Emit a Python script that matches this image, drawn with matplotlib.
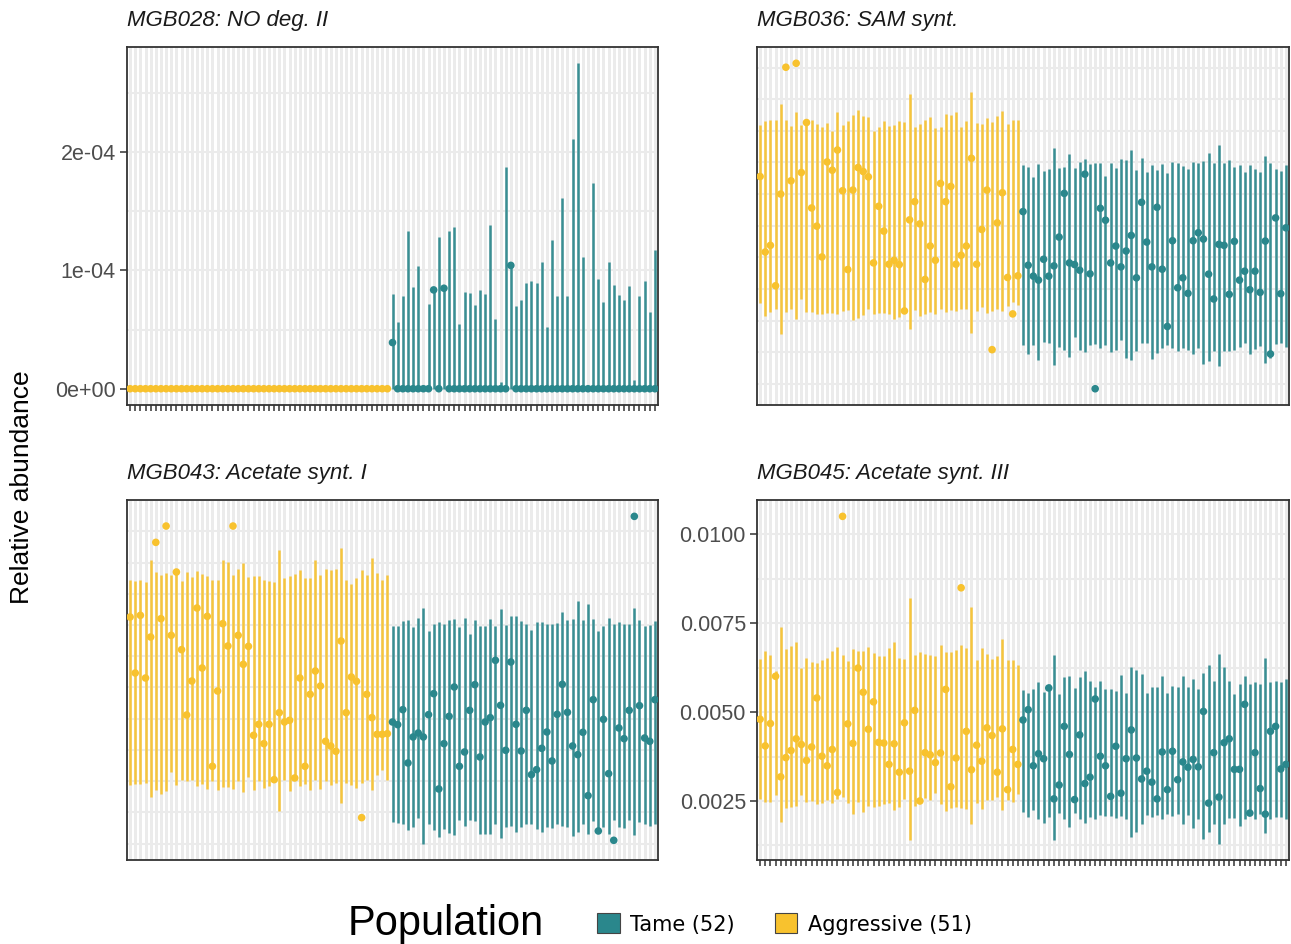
import numpy as np
import matplotlib.pyplot as plt
from matplotlib.ticker import MultipleLocator, FuncFormatter, FormatStrFormatter, NullLocator
from matplotlib.patches import Patch

plt.rcParams['font.family'] = ['Liberation Sans', 'DejaVu Sans']

# ------------------------------------------------------------
# Data : 51 aggressive samples followed by 52 tame samples
# ------------------------------------------------------------
n_aggr, n_tame = 51, 52
group = ['Aggressive'] * n_aggr + ['Tame'] * n_tame

# MGB028: NO deg. II  (units of 1e-4)
no_mid = [0.0] * 51 + [
    0.39, 0, 0, 0, 0, 0, 0, 0, 0.835, 0,
    0.849, 0, 0, 0, 0, 0, 0, 0, 0, 0,
    0, 0, 0, 1.042, 0, 0, 0, 0, 0, 0,
    0, 0, 0, 0, 0, 0, 0, 0, 0, 0,
    0, 0, 0, 0, 0, 0, 0, 0, 0, 0,
    0, 0]
no_lo = [0.0] * 103
no_hi = [0.0] * 51 + [
    0.80, 0.56, 0.78, 1.33, 0.86, 1.04, 0, 0.72, 0.84, 1.28,
    0.85, 1.33, 1.37, 0.55, 0.82, 0.81, 0.71, 0.83, 0.80, 1.38,
    0.59, 0.06, 1.87, 1.05, 0.70, 0.75, 0.89, 0.91, 0.89, 1.07,
    0.52, 1.26, 0.78, 1.61, 0.78, 2.11, 2.75, 1.11, 0, 1.74,
    0.93, 0.73, 1.07, 0.88, 0.79, 0.75, 0.87, 0.07, 0.78, 0.91,
    0.65, 1.17]

# MGB036: SAM synt.  (units of 1e-6)
sam_mid = [
    688, 460, 480, 358, 635, 1018, 675, 1030, 700, 851,
    593, 538, 445, 732, 707, 768, 645, 407, 647, 715,
    703, 687, 427, 598, 523, 423, 435, 422, 282, 557,
    612, 545, 377, 478, 435, 667, 612, 658, 423, 450,
    478, 743, 423, 528, 647, 165, 548, 639, 383, 273,
    388,
    582, 420, 387, 375, 438, 387, 418, 505, 637, 427,
    422, 405, 695, 394, 47, 592, 556, 427, 478, 415,
    463, 510, 382, 610, 490, 415, 595, 408, 235, 494,
    352, 382, 335, 494, 518, 499, 393, 318, 483, 480,
    332, 492, 375, 402, 346, 402, 338, 493, 152, 563,
    334, 533]
sam_lo = [
    305, 267, 280, 288, 212, 280, 288, 257, 317, 280,
    278, 272, 272, 275, 275, 272, 282, 285, 255, 260,
    270, 288, 272, 277, 275, 272, 258, 265, 275, 227,
    285, 267, 272, 280, 272, 287, 278, 285, 282, 288,
    288, 215, 283, 295, 275, 283, 288, 282, 297, 310,
    300,
    180, 152, 178, 135, 188, 185, 118, 172, 165, 142,
    202, 165, 158, 180, 182, 170, 180, 158, 165, 195,
    140, 135, 160, 185, 185, 138, 155, 170, 180, 170,
    160, 170, 165, 152, 170, 122, 132, 162, 115, 160,
    162, 165, 172, 185, 152, 168, 175, 125, 140, 182,
    185, 172]
sam_hi = [
    845, 855, 858, 858, 908, 860, 840, 882, 845, 855,
    858, 848, 838, 850, 825, 882, 845, 855, 875, 890,
    870, 868, 825, 838, 855, 842, 845, 855, 852, 938,
    838, 848, 860, 868, 835, 838, 878, 875, 882, 838,
    855, 942, 850, 848, 865, 852, 870, 885, 848, 860,
    858,
    722, 718, 688, 725, 705, 710, 775, 715, 718, 755,
    715, 732, 742, 725, 730, 730, 690, 728, 715, 742,
    738, 768, 708, 745, 702, 722, 708, 725, 698, 732,
    728, 720, 710, 732, 728, 735, 758, 730, 784, 730,
    738, 718, 722, 702, 722, 710, 702, 750, 728, 712,
    705, 722]

# MGB043: Acetate synt. I  (units of 1e-6)
ace1_mid = [
    730, 562, 735, 547, 670, 954, 725, 1003, 675, 865,
    632, 436, 538, 757, 577, 732, 282, 508, 710, 643,
    1003, 675, 588, 642, 375, 408, 350, 408, 242, 443,
    415, 420, 247, 547, 282, 498, 568, 523, 357, 343,
    327, 658, 443, 550, 537, 128, 498, 428, 378, 378,
    380,
    415, 407, 452, 292, 370, 382, 370, 437, 500, 214,
    350, 432, 520, 282, 325, 450, 527, 310, 415, 428,
    600, 465, 330, 595, 408, 328, 450, 257, 272, 336,
    385, 298, 438, 528, 444, 343, 317, 384, 194, 482,
    88, 423, 260, 60, 397, 365, 450, 1032, 464, 367,
    357, 482]
ace1_lo = [
    225, 230, 228, 232, 190, 212, 200, 208, 265, 225,
    242, 238, 242, 222, 230, 215, 238, 212, 220, 220,
    215, 238, 205, 250, 212, 238, 218, 222, 242, 148,
    242, 207, 242, 222, 228, 212, 240, 215, 238, 225,
    232, 172, 232, 225, 218, 232, 242, 210, 255, 272,
    242,
    115, 112, 108, 92, 100, 128, 50, 110, 92, 70,
    95, 82, 75, 120, 102, 120, 118, 80, 78, 80,
    110, 68, 100, 102, 85, 100, 108, 110, 95, 85,
    100, 98, 108, 102, 100, 72, 85, 108, 80, 118,
    90, 100, 78, 120, 100, 98, 120, 75, 115, 108,
    102, 108]
ace1_hi = [
    842, 838, 842, 835, 902, 865, 855, 862, 855, 860,
    838, 865, 850, 868, 860, 852, 842, 840, 902, 895,
    855, 875, 892, 850, 852, 852, 840, 838, 835, 932,
    848, 852, 860, 872, 848, 848, 902, 855, 875, 870,
    875, 938, 842, 830, 848, 872, 855, 908, 862, 842,
    855,
    702, 702, 718, 722, 700, 727, 758, 687, 710, 715,
    710, 720, 725, 700, 727, 678, 720, 702, 702, 725,
    702, 755, 705, 732, 732, 718, 708, 690, 715, 715,
    708, 708, 712, 745, 722, 725, 778, 720, 768, 725,
    687, 702, 728, 708, 715, 708, 708, 758, 722, 702,
    705, 717]

# MGB045: Acetate synt. III  (units of 1e-4)
ace3_mid = [
    48.0, 40.5, 46.8, 60.1, 31.8, 37.2, 39.2, 42.5, 40.9, 36.4,
    40.2, 54.0, 37.6, 34.9, 39.5, 27.4, 105.1, 46.7, 41.2, 62.4,
    55.6, 45.2, 52.9, 41.5, 41.3, 35.3, 41.1, 33.1, 47.0, 33.4,
    50.5, 25.0, 38.6, 38.0, 35.8, 38.5, 56.4, 29.0, 37.1, 85.0,
    44.6, 33.8, 40.7, 36.2, 45.6, 43.4, 33.1, 45.3, 28.2, 39.5,
    35.3,
    47.8, 50.7, 34.9, 38.3, 36.9, 56.8, 25.6, 29.5, 46.0, 38.1,
    25.4, 43.6, 29.9, 31.7, 53.7, 37.6, 34.9, 26.3, 40.4, 27.2,
    36.9, 45.0, 37.1, 31.2, 33.4, 30.3, 25.6, 38.8, 28.2, 39.0,
    31.0, 36.0, 34.5, 36.7, 34.6, 50.2, 24.4, 38.6, 26.1, 41.4,
    42.5, 33.9, 33.9, 52.2, 21.6, 38.6, 28.5, 21.3, 44.6, 46.0,
    34.0, 35.3]
ace3_lo = [
    25.7, 24.7, 24.7, 26.6, 19.1, 23.1, 23.3, 23.5, 26.6, 24.7,
    25.0, 24.1, 24.4, 25.2, 24.3, 25.7, 26.1, 24.4, 21.3, 24.7,
    21.9, 23.5, 23.3, 23.5, 24.1, 24.4, 22.4, 23.3, 25.7, 14.1,
    23.5, 24.3, 25.9, 25.4, 27.2, 24.1, 22.2, 23.0, 23.3, 23.1,
    22.8, 18.6, 24.3, 22.8, 25.2, 25.4, 26.1, 22.6, 25.2, 24.7,
    26.9,
    21.9, 20.5, 22.6, 19.8, 18.8, 20.5, 14.1, 21.6, 19.8, 17.7,
    21.6, 19.8, 18.8, 20.5, 20.0, 21.0, 20.7, 20.7, 20.3, 20.7,
    20.0, 14.9, 16.3, 18.6, 21.0, 20.5, 21.0, 20.0, 21.3, 20.7,
    21.4, 18.4, 21.0, 17.5, 20.0, 14.4, 16.3, 18.6, 13.0, 18.6,
    20.3, 20.3, 17.9, 19.8, 21.0, 20.0, 21.3, 16.0, 20.0, 20.5,
    20.5, 20.0]
ace3_hi = [
    65.0, 67.3, 66.2, 61.5, 74.1, 67.8, 68.7, 69.8, 62.4, 65.3,
    64.0, 63.8, 64.7, 65.3, 67.3, 68.3, 66.2, 64.3, 67.8, 67.1,
    67.1, 68.3, 66.6, 65.7, 65.7, 68.0, 69.7, 65.3, 65.0, 82.0,
    66.2, 67.0, 66.4, 66.2, 65.9, 69.0, 66.9, 66.9, 67.5, 68.9,
    68.0, 79.7, 64.7, 68.1, 66.4, 65.0, 65.9, 70.6, 64.7, 64.7,
    63.4,
    56.1, 55.4, 56.6, 58.4, 55.6, 58.0, 66.2, 55.1, 60.0, 60.3,
    56.8, 59.8, 61.7, 58.7, 57.2, 58.7, 56.6, 56.6, 55.9, 60.5,
    55.3, 62.8, 61.9, 60.8, 55.3, 57.0, 57.2, 60.3, 55.3, 57.5,
    57.2, 60.3, 57.2, 59.4, 56.6, 61.0, 63.4, 58.9, 66.4, 62.6,
    58.7, 55.1, 57.8, 60.3, 57.8, 58.4, 58.0, 65.3, 58.4, 58.9,
    58.4, 59.4]

# ------------------------------------------------------------
# Style
# ------------------------------------------------------------
TEAL = '#2a878c'
GOLD = '#f8c22e'
GRID = '#ebebeb'
FRAME = '#333333'
W, H = 1291, 944


def box(x0, y0, x1, y1):
    # pixel box (top-left origin) -> figure fraction rect
    return [x0 / W, 1 - y1 / H, (x1 - x0) / W, (y1 - y0) / H]


def draw_panel(ax, mid, lo, hi, unit, title, show_x, show_y):
    mid = np.asarray(mid, float) * unit
    lo = np.asarray(lo, float) * unit
    hi = np.asarray(hi, float) * unit
    x = np.arange(len(mid))
    cols = [TEAL if g == 'Tame' else GOLD for g in group]

    ax.vlines(x, lo, hi, colors=cols, lw=1.8, alpha=0.92, zorder=2)
    ax.scatter(x, mid, s=30, c=cols, linewidths=0, zorder=3)

    allv = np.concatenate([mid, lo, hi])
    span = allv.max() - allv.min()
    ax.set_ylim(allv.min() - 0.05 * span, allv.max() + 0.05 * span)
    ax.set_xlim(-0.6, len(x) - 0.4)

    ax.set_xticks(x)
    ax.set_xticklabels([])
    ax.set_axisbelow(True)
    ax.grid(axis='x', color=GRID, lw=2.1)
    ax.grid(axis='y', which='both', color=GRID, lw=1.5)

    for sp in ax.spines.values():
        sp.set_color(FRAME)
        sp.set_linewidth(1.3)

    ax.tick_params(axis='x', length=4 if show_x else 0, width=1.1, color=FRAME)
    ax.tick_params(axis='y', which='major', length=5 if show_y else 0, width=1.1,
                   color=FRAME, labelsize=15.5, labelcolor='#4d4d4d', pad=3)
    ax.tick_params(axis='y', which='minor', length=0)
    if not show_y:
        ax.set_yticklabels([])

    ax.set_title(title, loc='left', fontsize=16, fontstyle='italic',
                 color='#1a1a1a', pad=15)


fig = plt.figure(figsize=(W / 100, H / 100), dpi=100)

ax1 = fig.add_axes(box(127, 47, 658, 405))
ax1.yaxis.set_major_locator(MultipleLocator(1e-4))
ax1.yaxis.set_minor_locator(MultipleLocator(0.5e-4))
ax1.yaxis.set_major_formatter(FuncFormatter(lambda v, p: f"{v:.0e}"))
draw_panel(ax1, no_mid, no_lo, no_hi, 1e-4, 'MGB028: NO deg. II', True, True)

ax2 = fig.add_axes(box(757, 47, 1289, 405))
ax2.yaxis.set_major_locator(MultipleLocator(95.5e-6, offset=62e-6))
ax2.yaxis.set_minor_locator(NullLocator())
draw_panel(ax2, sam_mid, sam_lo, sam_hi, 1e-6, 'MGB036: SAM synt.', False, False)

ax3 = fig.add_axes(box(127, 500, 658, 860))
ax3.yaxis.set_major_locator(MultipleLocator(93.7e-6, offset=50e-6))
ax3.yaxis.set_minor_locator(NullLocator())
draw_panel(ax3, ace1_mid, ace1_lo, ace1_hi, 1e-6, 'MGB043: Acetate synt. I', False, False)

ax4 = fig.add_axes(box(757, 500, 1289, 860))
ax4.yaxis.set_major_locator(MultipleLocator(0.0025))
ax4.yaxis.set_minor_locator(MultipleLocator(0.00125))
ax4.yaxis.set_major_formatter(FormatStrFormatter('%.4f'))
draw_panel(ax4, ace3_mid, ace3_lo, ace3_hi, 1e-4, 'MGB045: Acetate synt. III', True, True)

# shared y label
fig.text(22 / W, 1 - 487 / H, 'Relative abundance', rotation=90,
         ha='center', va='center', fontsize=19, color='black')

# legend
fig.text(348 / W, 1 - 924 / H, 'Population', ha='left', va='center',
         fontsize=30, color='black')
handles = [Patch(facecolor=TEAL, edgecolor='#444444', lw=0.8, label='Tame (52)'),
           Patch(facecolor=GOLD, edgecolor='#444444', lw=0.8, label='Aggressive (51)')]
fig.legend(handles=handles, loc='center left', bbox_to_anchor=(597 / W, 1 - 924 / H),
           ncol=2, frameon=False, borderpad=0, borderaxespad=0,
           handlelength=1.1, handleheight=1.1, handletextpad=0.5,
           columnspacing=1.9, prop={'family': 'DejaVu Sans', 'size': 15})

fig.savefig('out.png', dpi=100)
